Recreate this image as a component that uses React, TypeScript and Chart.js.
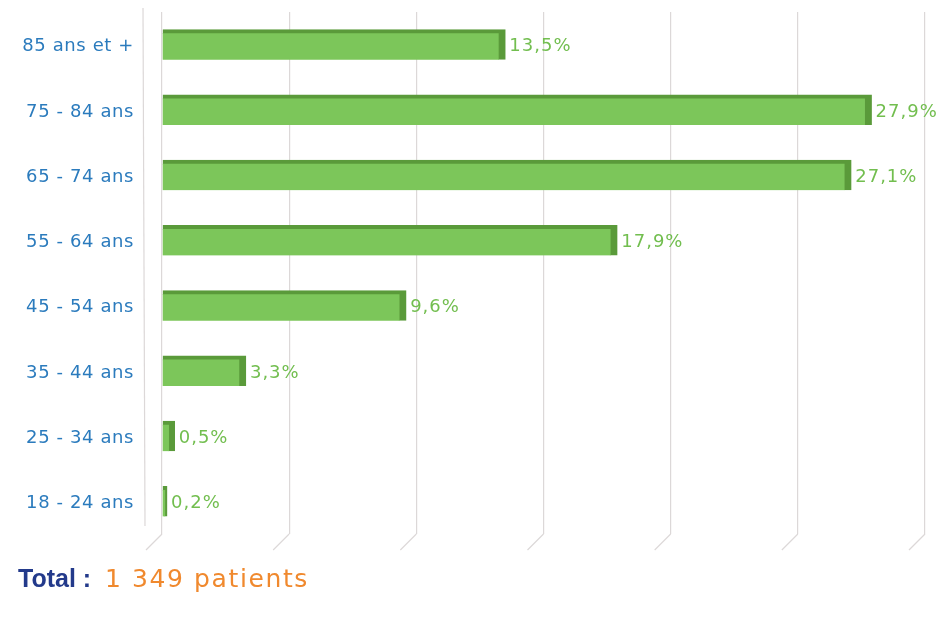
import React, { useEffect, useRef } from "react";
import { Chart, registerables } from "chart.js";

Chart.register(...registerables);

const categories = [
  "85 ans et +",
  "75 - 84 ans",
  "65 - 74 ans",
  "55 - 64 ans",
  "45 - 54 ans",
  "35 - 44 ans",
  "25 - 34 ans",
  "18 - 24 ans",
];
const values = [13.5, 27.9, 27.1, 17.9, 9.6, 3.3, 0.5, 0.2];
const valueLabels = ["13,5%", "27,9%", "27,1%", "17,9%", "9,6%", "3,3%", "0,5%", "0,2%"];
const totalLabel = "Total :";
const totalValue = "1 349 patients";

const GRID = "#DCD8D8";

const textPlugin = {
  id: "textPlugin",
  beforeDatasetsDraw(chart: any) {
    const { ctx, chartArea, scales } = chart;
    const xs = scales.x;
    ctx.save();
    ctx.strokeStyle = GRID;
    ctx.lineWidth = 1.2;
    const wallX = chartArea.left - 19;
    ctx.beginPath();
    ctx.moveTo(wallX, chartArea.top - 4);
    ctx.lineTo(wallX + 2, chartArea.bottom - 8);
    ctx.stroke();
    for (let v = 0; v <= 30; v += 5) {
      const x = xs.getPixelForValue(v);
      ctx.beginPath();
      ctx.moveTo(x, chartArea.bottom);
      ctx.lineTo(x - 16, chartArea.bottom + 16);
      ctx.stroke();
    }
    ctx.restore();
  },
  afterDraw(chart: any) {
    const { ctx, chartArea, scales } = chart;
    const ys = scales.y;
    const meta = chart.getDatasetMeta(0);
    ctx.save();
    ctx.textBaseline = "middle";
    (ctx as any).letterSpacing = "0.6px";
    ctx.font = "18px 'DejaVu Sans', sans-serif";
    ctx.fillStyle = "#2B7BBD";
    ctx.textAlign = "right";
    categories.forEach((c, i) => {
      const y = ys.getPixelForValue(i) + 2;
      ctx.fillText(c, chartArea.left - 28, y);
    });
    (ctx as any).letterSpacing = "1px";
    ctx.font = "18px 'DejaVu Sans', sans-serif";
    ctx.fillStyle = "#72BE4F";
    ctx.textAlign = "left";
    meta.data.forEach((bar: any, i: number) => {
      ctx.fillText(valueLabels[i], bar.x + 4, bar.y + 2);
    });
    ctx.textAlign = "left";
    ctx.textBaseline = "alphabetic";
    (ctx as any).letterSpacing = "0px";
    ctx.font = "bold 25px 'Liberation Sans', Arial, sans-serif";
    ctx.fillStyle = "#233A8B";
    ctx.fillText(totalLabel, 18, 587);
    (ctx as any).letterSpacing = "1.6px";
    ctx.font = "25px 'DejaVu Sans', sans-serif";
    ctx.fillStyle = "#F0892E";
    ctx.fillText(totalValue, 105, 587);
    ctx.restore();
  },
};

export default function App() {
  const ref = useRef<HTMLCanvasElement>(null);
  useEffect(() => {
    const chart = new Chart(ref.current!, {
      type: "bar",
      data: {
        labels: categories,
        datasets: [
          {
            data: values,
            backgroundColor: "#7CC65A",
            borderColor: "#5A9A3A",
            borderWidth: { top: 4, right: 7, bottom: 0, left: 0 } as any,
            barThickness: 30,
          },
        ],
      },
      options: {
        indexAxis: "y",
        responsive: false,
        animation: false,
        layout: { padding: { left: 162, right: 18, top: 12, bottom: 94 } },
        plugins: { legend: { display: false }, tooltip: { enabled: false } },
        scales: {
          x: {
            min: 0,
            max: 30,
            ticks: { display: false, stepSize: 5 },
            grid: { color: GRID, lineWidth: 1.2, drawTicks: false },
            border: { display: false },
          },
          y: { display: false },
        },
      },
      plugins: [textPlugin],
    });
    return () => chart.destroy();
  }, []);
  return (
    <div style={{ position: "fixed", left: 0, top: 0, width: 943, height: 628, background: "#fff" }}>
      <canvas ref={ref} width={943} height={628} />
    </div>
  );
}
